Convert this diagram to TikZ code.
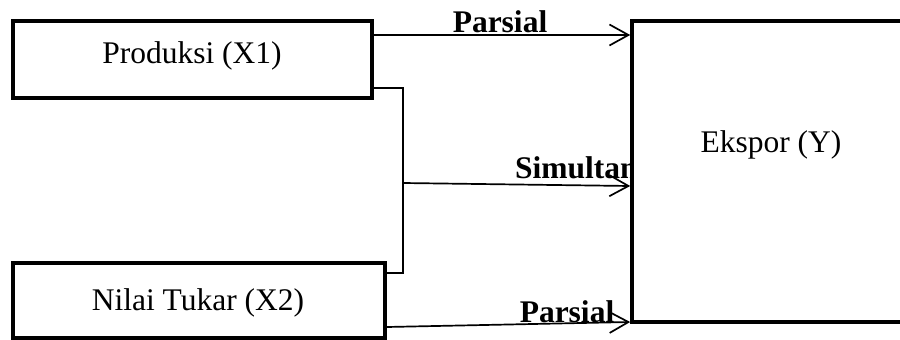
\documentclass[tikz,border=0pt]{standalone}
\usepackage{fontspec}
\setmainfont{Liberation Serif}
\usetikzlibrary{arrows.meta}
\begin{document}
\begin{tikzpicture}[x=1pt,y=-1pt,
  box/.style={draw, line width=3.6pt, fill=white, inner sep=0pt},
  txt/.style={font=\fontsize{31.5}{36}\selectfont, anchor=base, inner sep=0pt},
  lbl/.style={font=\fontsize{31.5}{36}\selectfont\bfseries, anchor=base, inner sep=0pt},
  link/.style={line width=1.7pt, -{Straight Barb[length=19pt,width=21pt,line width=1.7pt]}},
  bracket/.style={line width=1.3pt}
]
\useasboundingbox (0,0) rectangle (900,340);

% edge labels (placed first so the box covers the clipped end of "Simultan")
\node[lbl] (lp1) at (500,32) {Parsial};
\node[lbl, anchor=base west] (ls) at (515,178) {Simultan};
\node[lbl] (lp2) at (567,322) {Parsial};

% boxes
\node[box, minimum width=359pt, minimum height=77pt] (x1) at (192.5,59.5) {};
\node[box, minimum width=372pt, minimum height=75pt] (x2) at (199,300.5) {};
\node[box, minimum width=330pt, minimum height=301pt] (y) at (797,171.5) {};

\node[txt] (tx1) at (192,63) {Produksi (X1)};
\node[txt] (tx2) at (198,310) {Nilai Tukar (X2)};
\node[txt] (ty) at (771,152) {Ekspor (Y)};

% junction points
\coordinate (a1) at (0,35);
\coordinate (jt) at (403,88);
\coordinate (jm) at (403,183);
\coordinate (jb) at (403,273);
\coordinate (em) at (0,186);
\coordinate (a2s) at (0,327);
\coordinate (a2e) at (0,322);

% joint-effect bracket
\draw[bracket] (x1.east |- jt) -- (jt) -- (jb) -- (x2.east |- jb);

% arrows
\draw[link] (x1.east |- a1) -- (y.west |- a1);
\draw[link] (jm) -- (y.west |- em);
\draw[link] (x2.east |- a2s) -- (y.west |- a2e);
\end{tikzpicture}
\end{document}
